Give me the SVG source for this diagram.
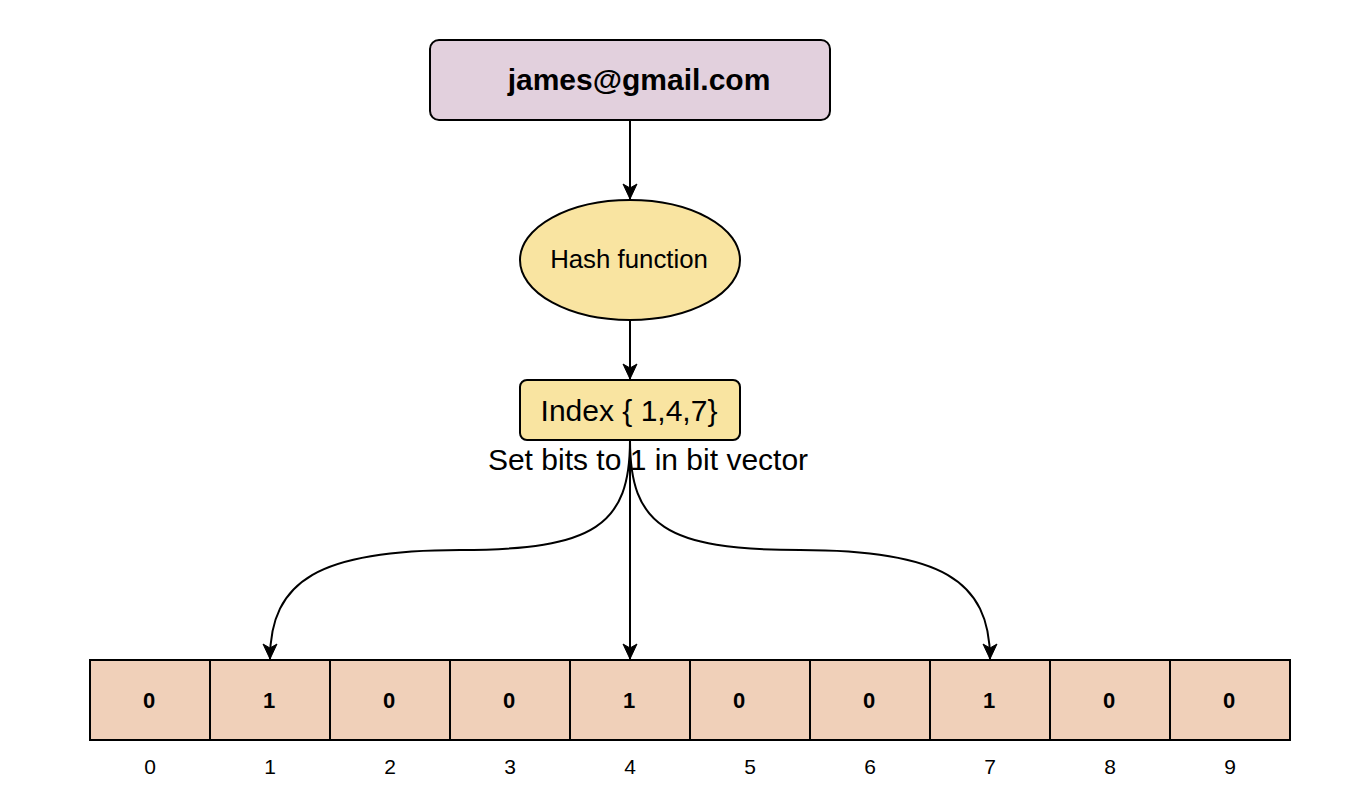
<svg xmlns="http://www.w3.org/2000/svg" width="1362" height="806" viewBox="0 0 1362 806">
<style>
.t{font-family:"Liberation Sans",Arial,sans-serif;fill:#000;text-anchor:middle}
.b{font-weight:bold}
.cell{fill:#F0D0B9;stroke:#000;stroke-width:2}
.edge{fill:none;stroke:#000;stroke-width:2}
</style>
<defs>
<marker id="arr" markerUnits="userSpaceOnUse" markerWidth="18" markerHeight="18" viewBox="-16 -9 18 18" refX="0" refY="0" orient="auto">
<path d="M-15,-7 L0,0 L-15,7 L-11,0 Z" fill="#000" stroke="#000" stroke-width="1"/>
</marker>
</defs>
<rect width="1362" height="806" fill="#fff"/>
<g id="email">
<rect x="430" y="40" width="400" height="80" rx="9" fill="#E2D0DD" stroke="#000" stroke-width="2"/>
<text class="t b" x="639" y="90" font-size="30">james@gmail.com</text>
</g>
<g id="hash">
<ellipse cx="630" cy="260" rx="110" ry="60" fill="#F9E4A1" stroke="#000" stroke-width="2"/>
<text class="t" x="629" y="268" font-size="25.8">Hash function</text>
</g>
<g id="index">
<rect x="520" y="380" width="220" height="60" rx="7" fill="#F9E4A1" stroke="#000" stroke-width="2"/>
<text class="t" x="629" y="421" font-size="30">Index { 1,4,7}</text>
</g>
<g id="label">
<text class="t" x="648" y="470" font-size="30">Set bits to 1 in bit vector</text>
</g>
<g id="connectors">
<line class="edge" x1="630" y1="120" x2="630" y2="199" marker-end="url(#arr)"/>
<line class="edge" x1="630" y1="320" x2="630" y2="379" marker-end="url(#arr)"/>
<line class="edge" x1="630" y1="440" x2="630" y2="659" marker-end="url(#arr)"/>
<path class="edge" d="M630 440 C630 525 595 550 460 550 C320 550 270 580 270 659" marker-end="url(#arr)"/>
<path class="edge" d="M630 440 C630 525 665 550 800 550 C940 550 990 580 990 659" marker-end="url(#arr)"/>
</g>
<g id="bits">
<g id="bit0"><rect class="cell" x="90" y="660" width="120" height="80"/><text class="t b" x="149" y="708" font-size="22">0</text><text class="t" x="150" y="774" font-size="21">0</text></g>
<g id="bit1"><rect class="cell" x="210" y="660" width="120" height="80"/><text class="t b" x="269" y="708" font-size="22">1</text><text class="t" x="270" y="774" font-size="21">1</text></g>
<g id="bit2"><rect class="cell" x="330" y="660" width="120" height="80"/><text class="t b" x="389" y="708" font-size="22">0</text><text class="t" x="390" y="774" font-size="21">2</text></g>
<g id="bit3"><rect class="cell" x="450" y="660" width="120" height="80"/><text class="t b" x="509" y="708" font-size="22">0</text><text class="t" x="510" y="774" font-size="21">3</text></g>
<g id="bit4"><rect class="cell" x="570" y="660" width="120" height="80"/><text class="t b" x="629" y="708" font-size="22">1</text><text class="t" x="630" y="774" font-size="21">4</text></g>
<g id="bit5"><rect class="cell" x="690" y="660" width="120" height="80"/><text class="t b" x="739" y="708" font-size="22">0</text><text class="t" x="750" y="774" font-size="21">5</text></g>
<g id="bit6"><rect class="cell" x="810" y="660" width="120" height="80"/><text class="t b" x="869" y="708" font-size="22">0</text><text class="t" x="870" y="774" font-size="21">6</text></g>
<g id="bit7"><rect class="cell" x="930" y="660" width="120" height="80"/><text class="t b" x="989" y="708" font-size="22">1</text><text class="t" x="990" y="774" font-size="21">7</text></g>
<g id="bit8"><rect class="cell" x="1050" y="660" width="120" height="80"/><text class="t b" x="1109" y="708" font-size="22">0</text><text class="t" x="1110" y="774" font-size="21">8</text></g>
<g id="bit9"><rect class="cell" x="1170" y="660" width="120" height="80"/><text class="t b" x="1229" y="708" font-size="22">0</text><text class="t" x="1230" y="774" font-size="21">9</text></g>
</g>
</svg>
